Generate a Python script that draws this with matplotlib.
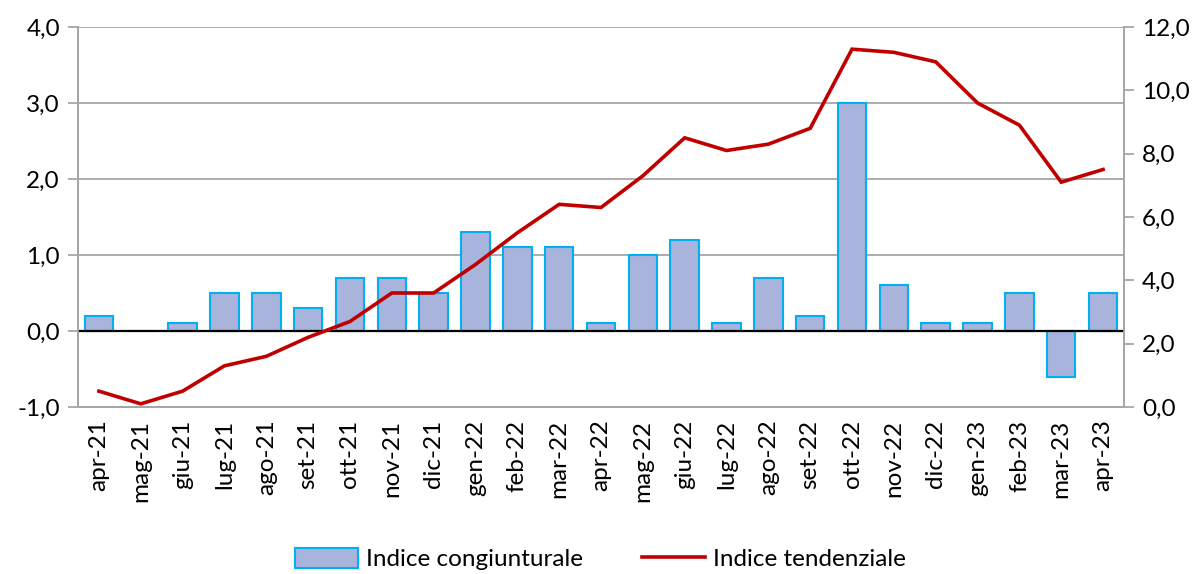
import matplotlib
matplotlib.use("Agg")
import matplotlib.pyplot as plt
import numpy as np

categories = ["apr-21", "mag-21", "giu-21", "lug-21", "ago-21", "set-21", "ott-21", "nov-21",
              "dic-21", "gen-22", "feb-22", "mar-22", "apr-22", "mag-22", "giu-22", "lug-22",
              "ago-22", "set-22", "ott-22", "nov-22", "dic-22", "gen-23", "feb-23", "mar-23", "apr-23"]
congiunturale = [0.2, 0.0, 0.1, 0.5, 0.5, 0.3, 0.7, 0.7, 0.5, 1.3, 1.1, 1.1, 0.1, 1.0, 1.2, 0.1,
                 0.7, 0.2, 3.0, 0.6, 0.1, 0.1, 0.5, -0.6, 0.5]
tendenziale = [0.5, 0.1, 0.5, 1.3, 1.6, 2.2, 2.7, 3.6, 3.6, 4.5, 5.5, 6.4, 6.3, 7.3, 8.5, 8.1,
               8.3, 8.8, 11.3, 11.2, 10.9, 9.6, 8.9, 7.1, 7.5]
left_ticks = [-1.0, 0.0, 1.0, 2.0, 3.0, 4.0]
right_ticks = [0.0, 2.0, 4.0, 6.0, 8.0, 10.0, 12.0]

plt.rcParams['font.family'] = ['Lato', 'DejaVu Sans']

fig = plt.figure(figsize=(12.01, 5.74), dpi=100)
ax = fig.add_axes([78/1201, 1 - 407/574, (1124-78)/1201, (407-27)/574])
ax2 = ax.twinx()

x = np.arange(len(categories))
grid_c = "#A6A6A6"
for t in left_ticks:
    if t != 0:
        ax.axhline(t, color=grid_c, lw=1.3, zorder=0)
bars = ax.bar(x, congiunturale, width=0.68, color="#A9B4DC", edgecolor="#00B0F0", lw=1.5,
              zorder=2, label="Indice congiunturale")
ax.axhline(0, color="black", lw=1.6, zorder=3)

line, = ax2.plot(x, tendenziale, color="#C00000", lw=2.6, zorder=4, label="Indice tendenziale",
                 solid_joinstyle="miter")

ax.set_xlim(-0.5, len(categories) - 0.5)
ax.set_ylim(-1, 4)
ax2.set_ylim(0, 12)
ax.set_yticks(left_ticks)
ax.set_yticklabels([f"{v:.1f}".replace(".", ",") for v in left_ticks])
ax2.set_yticks(right_ticks)
ax2.set_yticklabels([f"{v:.1f}".replace(".", ",") for v in right_ticks])
ax.set_xticks(x)
ax.set_xticklabels(categories, rotation=90)

for a in (ax, ax2):
    for s in a.spines.values():
        s.set_color(grid_c)
        s.set_linewidth(1.3)
    a.spines['top'].set_visible(False)
ax.tick_params(axis='y', labelsize=17.5, length=7, color=grid_c, width=1.3, pad=6)
ax2.tick_params(axis='y', labelsize=17.5, length=7, color=grid_c, width=1.3, pad=6)
ax.tick_params(axis='x', labelsize=17.5, length=0, pad=9)

ax2.set_zorder(ax.zorder + 1)
ax2.patch.set_visible(False)

fig.legend([bars, line], ["Indice congiunturale", "Indice tendenziale"], loc="center",
           bbox_to_anchor=(0.5, 1 - 559/574), ncol=2, frameon=False, fontsize=17.5,
           handlelength=2.6, handleheight=0.9, columnspacing=2.4, handletextpad=0.35)

fig.savefig("out.png", dpi=100)
